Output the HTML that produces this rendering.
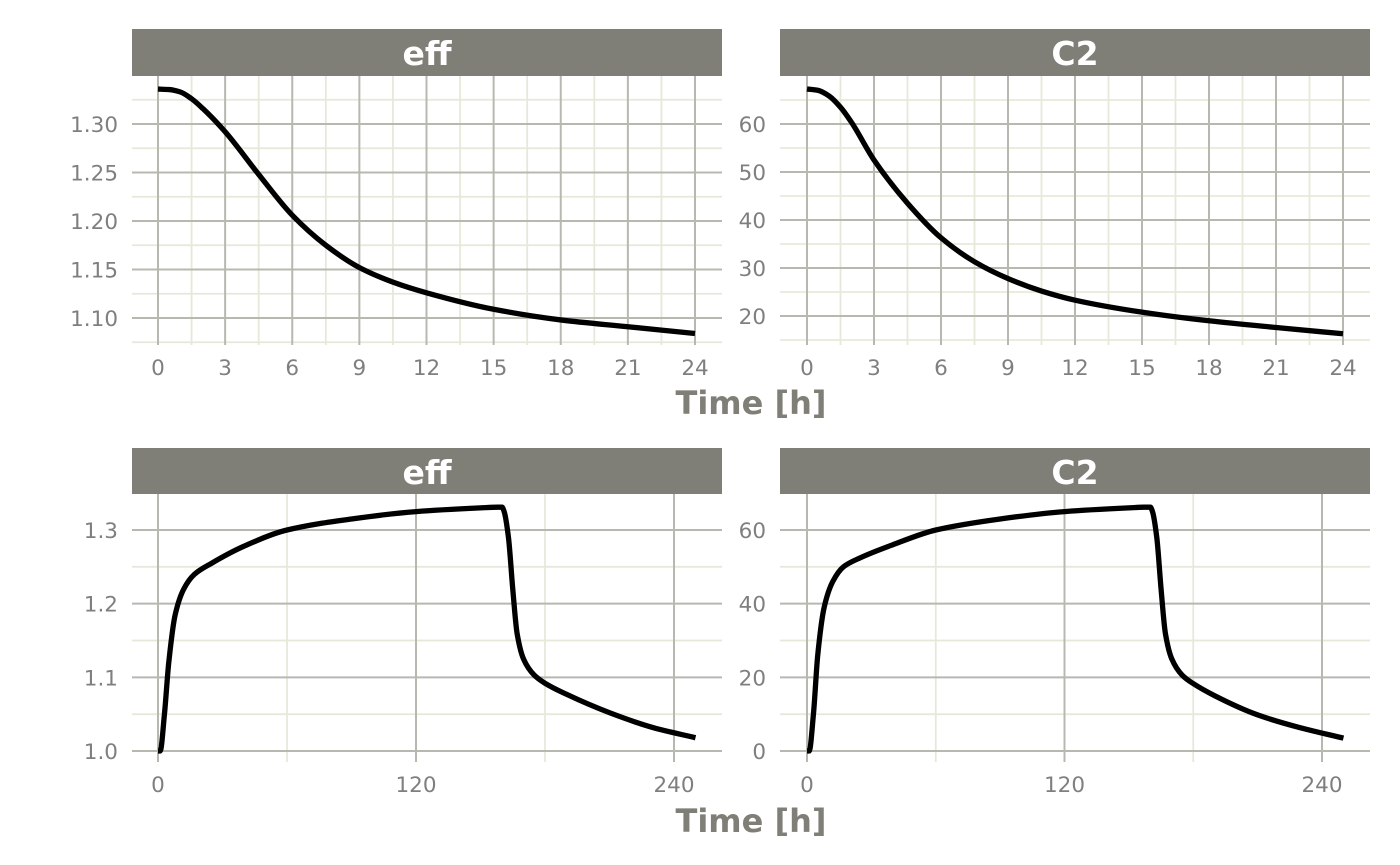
<!DOCTYPE html>
<html><head><meta charset="utf-8"><style>
html,body{margin:0;padding:0;background:#fff;}
svg{display:block;font-family:"DejaVu Sans","Liberation Sans",sans-serif;}
</style></head><body>
<svg id="chart" width="1400" height="865" viewBox="0 0 1400 865" xmlns="http://www.w3.org/2000/svg"></svg>
<script>
// Data arrays
const topTime = [0,0.5,1,1.5,2,3,4.5,6,7.5,9,10.5,12,15,18,21,24];
const topEff  = [1.336,1.3355,1.333,1.326,1.316,1.292,1.248,1.206,1.175,1.152,1.137,1.126,1.109,1.098,1.091,1.084];
const topC2   = [67.3,67.0,65.8,63.5,60.3,52.5,43.5,36.3,31.3,27.8,25.2,23.3,20.8,19.0,17.6,16.3];
const botTime = [0,1,3,5,8,12,17,25,40,60,90,120,150,158,160,161,163,165,167,170,175,180,190,210,230,250];
const botEff  = [1.0,1.0,1.05,1.12,1.185,1.22,1.24,1.255,1.278,1.300,1.315,1.325,1.330,1.331,1.331,1.325,1.29,1.22,1.16,1.125,1.103,1.092,1.077,1.052,1.032,1.018];
const botC2   = [0,0,10,26,39,46,50,52.5,56,60,63,65,66,66.2,66.2,65,58,44,32,25,20.5,18.3,15,9.8,6.3,3.5];
const topXTicks = [0,3,6,9,12,15,18,21,24];
const topXMinor = [1.5,4.5,7.5,10.5,13.5,16.5,19.5,22.5];
const botXTicks = [0,120,240];
const botXMinor = [60,180];
const effTopY = [1.10,1.15,1.20,1.25,1.30];
const effTopYMinor = [1.075,1.125,1.175,1.225,1.275,1.325];
const c2TopY = [20,30,40,50,60];
const c2TopYMinor = [15,25,35,45,55,65];
const effBotY = [1.0,1.1,1.2,1.3];
const effBotYMinor = [1.05,1.15,1.25];
const c2BotY = [0,20,40,60];
const c2BotYMinor = [10,30,50];

const NS="http://www.w3.org/2000/svg";
const svg=document.getElementById('chart');
function el(tag,attrs,parent){const e=document.createElementNS(NS,tag);for(const k in attrs)e.setAttribute(k,attrs[k]);(parent||svg).appendChild(e);return e;}
function lin(d0,d1,r0,r1){return v=>r0+(v-d0)*(r1-r0)/(d1-d0);}
function monotone(pts){
  const n=pts.length,dx=[],m=[],t=new Array(n);
  for(let i=0;i<n-1;i++){dx[i]=pts[i+1][0]-pts[i][0];m[i]=(pts[i+1][1]-pts[i][1])/dx[i];}
  t[0]=m[0];t[n-1]=m[n-2];
  for(let i=1;i<n-1;i++){if(m[i-1]*m[i]<=0)t[i]=0;else{const w1=2*dx[i]+dx[i-1],w2=dx[i]+2*dx[i-1];t[i]=(w1+w2)/(w1/m[i-1]+w2/m[i]);}}
  let d="M"+pts[0][0]+","+pts[0][1];
  for(let i=0;i<n-1;i++){const h=dx[i]/3;d+=" C"+(pts[i][0]+h)+","+(pts[i][1]+t[i]*h)+" "+(pts[i+1][0]-h)+","+(pts[i+1][1]-t[i+1]*h)+" "+pts[i+1][0]+","+pts[i+1][1];}
  return d;
}

function panel(o){
  const g=el('g',{});
  
  
  const x=lin(o.xd[0],o.xd[1],o.xr[0],o.xr[1]);
  const y=lin(o.yd[0],o.yd[1],o.yr[0],o.yr[1]);
  const L=o.left,R=o.left+590,T=o.top,B=o.bottom;
  o.yMinor.forEach(v=>{const l=el('line',{x1:L,x2:R,y1:y(v),y2:y(v),stroke:'#e8e8da','stroke-width':1.8},g);});
  o.xMinor.forEach(v=>{const l=el('line',{x1:x(v),x2:x(v),y1:T,y2:B,stroke:'#e8e8da','stroke-width':1.8},g);});
  o.yTicks.forEach(v=>{const l=el('line',{x1:L,x2:R,y1:y(v),y2:y(v),stroke:'#b8b8b0','stroke-width':2},g);
    const t=el('text',{x:L-14,y:y(v)+8,'text-anchor':'end','font-size':21.5,fill:'#7f7f7f'},g);t.textContent=o.yFmt(v);});
  o.xTicks.forEach(v=>{const l=el('line',{x1:x(v),x2:x(v),y1:T,y2:B,stroke:'#b8b8b0','stroke-width':2},g);
    const t=el('text',{x:x(v),y:B+30,'text-anchor':'middle','font-size':21.5,fill:'#7f7f7f'},g);t.textContent=v;});
  const sr=el('rect',{x:L,y:o.stripTop,width:590,height:T-o.stripTop,fill:'#7f7f77'},g);
  
  const st=el('text',{x:L+295,y:o.stripTop+36,'text-anchor':'middle','font-size':33,'font-weight':'bold',fill:'#fff'},g);
  st.textContent=o.title;
  const pts=o.xs.map((t,i)=>[x(t),y(o.ys[i])]);
  const p=el('path',{d:monotone(pts),fill:'none',stroke:'#000','stroke-width':5.3,'stroke-linejoin':'round','stroke-linecap':'butt'},g);
  
}
const f2=v=>v.toFixed(2), f1=v=>v.toFixed(1), f0=v=>String(v);
panel({name:'panel-top-eff',left:132,top:76,bottom:345,stripTop:29,title:'eff',xd:[0,24],xr:[158,695],yd:[1.10,1.30],yr:[318,124],xTicks:topXTicks,xMinor:topXMinor,yTicks:effTopY,yMinor:effTopYMinor,yFmt:f2,xs:topTime,ys:topEff});
panel({name:'panel-top-c2',left:780,top:76,bottom:345,stripTop:29,title:'C2',xd:[0,24],xr:[807,1343],yd:[20,60],yr:[316,124],xTicks:topXTicks,xMinor:topXMinor,yTicks:c2TopY,yMinor:c2TopYMinor,yFmt:f0,xs:topTime,ys:topC2});
panel({name:'panel-bottom-eff',left:132,top:494,bottom:762,stripTop:448,title:'eff',xd:[0,240],xr:[158,674],yd:[1.0,1.3],yr:[751,530],xTicks:botXTicks,xMinor:botXMinor,yTicks:effBotY,yMinor:effBotYMinor,yFmt:f1,xs:botTime,ys:botEff});
panel({name:'panel-bottom-c2',left:780,top:494,bottom:762,stripTop:448,title:'C2',xd:[0,240],xr:[807,1322],yd:[0,60],yr:[751,530],xTicks:botXTicks,xMinor:botXMinor,yTicks:c2BotY,yMinor:c2BotYMinor,yFmt:f0,xs:botTime,ys:botC2});
[414,832].forEach(yy=>{const t=el('text',{x:751,y:yy,'text-anchor':'middle','font-size':32,'font-weight':'bold',fill:'#7f7f77'});t.textContent='Time [h]';

});
</script>
</body></html>
